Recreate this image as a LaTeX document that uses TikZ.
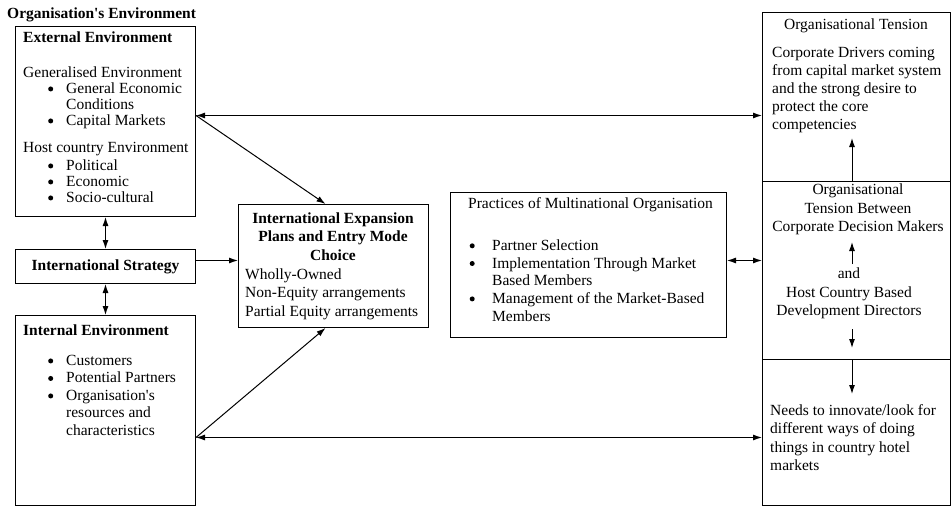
\documentclass[tikz,border=0pt]{standalone}
\usepackage{fontspec}
\setmainfont{Liberation Serif}
\usetikzlibrary{arrows.meta, positioning}

\newcommand{\bul}[1][18pt]{\makebox[#1][l]{\tikz[baseline=0pt]\fill (2.6pt,4.5pt) circle[radius=2.5pt];}}
\newcommand{\apo}{\textquotesingle}

\begin{document}
\begin{tikzpicture}[
    x=1pt, y=-1pt,
    font=\fontsize{15.5}{17.5}\selectfont,
    box/.style={draw, rectangle, line width=1pt, inner sep=0pt},
    txt/.style={inner sep=0pt, align=left},
    ctxt/.style={inner sep=0pt, align=center},
    head/.style={font=\fontsize{15.5}{18.5}\selectfont\bfseries},
    link/.style={draw, line width=1pt, -{Latex[length=9pt, width=6pt]}},
    bidir/.style={draw, line width=1pt, {Latex[length=9pt, width=6pt]}-{Latex[length=9pt, width=6pt]}}
]
\useasboundingbox (0,0) rectangle (951,506);

% left column
\node [txt, anchor=north west] (title) at (7,7.5) {\textbf{Organisation\apo s Environment}};
\node [box, anchor=north west, minimum width=180pt, minimum height=190pt] (ext) at (15,26) {};
\node [box, anchor=north west, minimum width=180pt, minimum height=34pt] (strat) at (15,249) {\textbf{International Strategy}};
\node [box, anchor=north west, minimum width=180pt, minimum height=190pt] (int) at (15,315) {};

\node [txt, anchor=north west, font=\fontsize{15.5}{16}\selectfont] (exttxt) at (23,31.5) {\textbf{External Environment}\\[19pt]
Generalised Environment\\
\hspace*{25pt}\bul General Economic\\
\hspace*{43pt}Conditions\\
\hspace*{25pt}\bul Capital Markets\\[11pt]
Host country Environment\\[2pt]
\hspace*{25pt}\bul Political\\
\hspace*{25pt}\bul Economic\\
\hspace*{25pt}\bul Socio-cultural};

\node [txt, anchor=north west] (inttxt) at (23,324.5) {\textbf{Internal Environment}\\[12.5pt]
\hspace*{25pt}\bul Customers\\
\hspace*{25pt}\bul Potential Partners\\
\hspace*{25pt}\bul Organisation\apo s\\
\hspace*{43pt}resources and\\
\hspace*{43pt}characteristics};

% centre
\node [box, anchor=north west, minimum width=190pt, minimum height=123pt] (cent) at (238,204) {};
\node [ctxt, head, anchor=north] (centttl) at (333,212.5) {International Expansion\\Plans and Entry Mode\\Choice};
\node [txt, anchor=north west, font=\fontsize{15.5}{18.5}\selectfont] (centtxt) at (245,268.5) {Wholly-Owned\\
Non-Equity arrangements\\
Partial Equity arrangements};

\node [box, anchor=north west, minimum width=276pt, minimum height=145pt] (prac) at (450,192) {};
\node [txt, anchor=north west, font=\fontsize{15.5}{17.7}\selectfont] (practxt) at (468,197.5) {Practices of Multinational Organisation\\[24pt]
\hspace*{1.5pt}\bul[22.5pt]Partner Selection\\
\hspace*{1.5pt}\bul[22.5pt]Implementation Through Market\\
\hspace*{24pt}Based Members\\
\hspace*{1.5pt}\bul[22.5pt]Management of the Market-Based\\
\hspace*{24pt}Members};

% right column
\node [box, anchor=north west, minimum width=188pt, minimum height=169pt] (rtop) at (762,12) {};
\node [box, anchor=north west, minimum width=188pt, minimum height=178pt] (rmid) at (762,181) {};
\node [box, anchor=north west, minimum width=188pt, minimum height=146pt] (rbot) at (762,359) {};

\node [ctxt, anchor=north] (rtopttl) at (856,18.5) {Organisational Tension};
\node [txt, anchor=north west, font=\fontsize{15.5}{18}\selectfont] (rtoptxt) at (772,47) {Corporate Drivers coming\\
from capital market system\\
and the strong desire to\\
protect the core\\
competencies};
\node [ctxt, anchor=north, font=\fontsize{15.5}{18.5}\selectfont] (rmidtxt) at (858,184) {Organisational\\Tension Between\\Corporate Decision Makers};
\node [ctxt, anchor=north, font=\fontsize{15.5}{18.5}\selectfont] (rmidtxtb) at (849,268) {and\\Host Country Based\\Development Directors};
\node [txt, anchor=north west, font=\fontsize{15.5}{18.3}\selectfont] (rbottxt) at (770,404.5) {Needs to innovate/look for\\
different ways of doing\\
things in country hotel\\
markets};

\coordinate (upA) at (852,138);
\coordinate (upB0) at (852,264);
\coordinate (upB1) at (852,242);
\coordinate (dnB0) at (852,329);
\coordinate (dnB1) at (852,348);
\coordinate (dnC) at (852,394);

% connectors
\path [bidir] (ext) -- (strat);
\path [bidir] (strat) -- (int);
\path [link] ([yshift=6pt]strat.east) -- ([yshift=6pt]strat.east -| cent.west);
\path [link] ([yshift=6pt]ext.east) -- ([xshift=-8pt]cent.north);
\path [link] ([yshift=-27pt]int.east) -- ([xshift=-8pt]cent.south);
\path [bidir] ([yshift=6pt]ext.east) -- ([yshift=6pt]ext.east -| rtop.west);
\path [bidir] ([yshift=-27pt]int.east) -- ([yshift=-27pt]int.east -| rbot.west);
\path [bidir] ([yshift=4.5pt]prac.east) -- ([yshift=4.5pt]prac.east -| rmid.west);

\path [link] (rtop.south -| upA) -- (upA);
\path [link] (upB0) -- (upB1);
\path [link] (dnB0) -- (dnB1);
\path [link] (rbot.north -| dnC) -- (dnC);

\end{tikzpicture}
\end{document}
